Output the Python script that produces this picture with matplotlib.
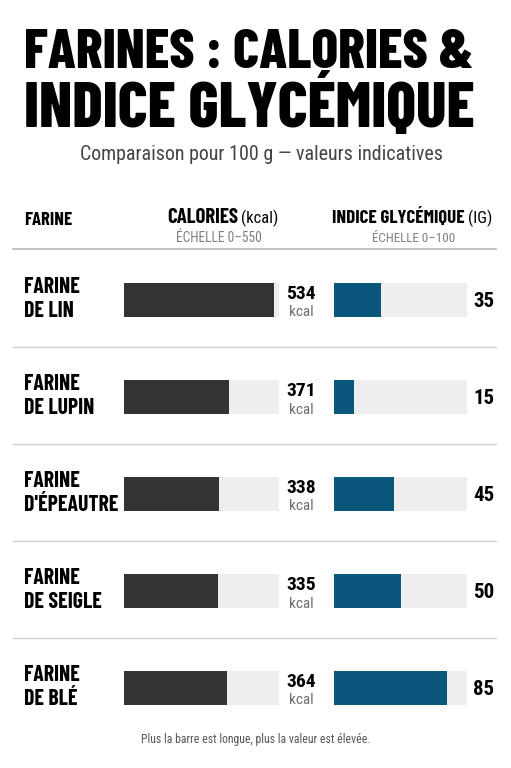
import matplotlib
matplotlib.use("Agg")
import matplotlib.pyplot as plt
from matplotlib import font_manager
from matplotlib.lines import Line2D

farines = ["FARINE\nDE LIN", "FARINE\nDE LUPIN", "FARINE\nD'ÉPEAUTRE", "FARINE\nDE SEIGLE", "FARINE\nDE BLÉ"]
calories = [534, 371, 338, 335, 364]
ig = [35, 15, 45, 50, 85]
cal_max = 550
ig_max = 100

names = {f.name for f in font_manager.fontManager.ttflist}


def pick(cands):
    for c in cands:
        if c in names:
            return c
    return "DejaVu Sans"


BOLD = pick(["Barlow Condensed", "Roboto Condensed", "Liberation Sans Narrow"])
REG = pick(["Roboto Condensed", "Barlow Condensed", "Liberation Sans Narrow"])

W, H = 511, 768
fig = plt.figure(figsize=(W / 100, H / 100), dpi=100)
fig.patch.set_facecolor("white")


def fx(px):
    return px / W


def fy(py):
    return 1 - py / H


def txt(x, y, s, size, weight="normal", color="black", ha="left", va="baseline", family=None, **kw):
    if family is None:
        family = REG if weight == "normal" else BOLD
    return fig.text(fx(x), fy(y), s, fontsize=size, fontweight=weight, color=color,
                    ha=ha, va=va, family=family, **kw)


renderer = fig.canvas.get_renderer()


def fit(t, width):
    w = t.get_window_extent(renderer).width
    t.set_fontsize(t.get_fontsize() * width / w)
    return t.get_fontsize()


# title
fit(txt(24, 68, "FARINES : CALORIES &", 38, 800), 448)
fit(txt(24, 127, "INDICE GLYCÉMIQUE", 38, 800), 450)
fit(txt(262, 160, "Comparaison pour 100 g — valeurs indicatives", 13, color="#444444", ha="center"), 363)

# column headers
fit(txt(24, 225, "FARINE", 13, "bold"), 48)
fit(txt(238, 223, "CALORIES", 13, "bold", ha="right"), 71)
txt(241, 223, "(kcal)", 12, ha="left")
fit(txt(465, 223, "INDICE GLYCÉMIQUE", 13, "bold", ha="right"), 132)
txt(468, 223, "(IG)", 12, ha="left")
fit(txt(219, 242, "ÉCHELLE 0–550", 9, color="#808080", ha="center"), 87)
fit(txt(414, 242, "ÉCHELLE 0–100", 9, color="#808080", ha="center"), 84)

fig.add_artist(Line2D([fx(13), fx(496)], [fy(249), fy(249)], color="#b5b5b5", lw=1.2))
for y in [347, 444, 541, 638]:
    fig.add_artist(Line2D([fx(13), fx(496)], [fy(y), fy(y)], color="#cfcfcf", lw=1))

# bar axes, rows are 97 px apart starting at y=251.5
top, bottom = 251.5, 251.5 + 97 * len(farines)
rows = list(range(len(farines)))
ax_cal = fig.add_axes([fx(124), fy(bottom), fx(279 - 124), (bottom - top) / H])
ax_ig = fig.add_axes([fx(334), fy(bottom), fx(467 - 334), (bottom - top) / H])

ax_cal.barh(rows, [cal_max] * len(rows), height=0.36, color="#eeeeee")
ax_cal.barh(rows, calories, height=0.36, color="#333333")
ax_cal.set_xlim(0, cal_max)
ax_ig.barh(rows, [ig_max] * len(rows), height=0.36, color="#eeeeee")
ax_ig.barh(rows, ig, height=0.36, color="#0b567b")
ax_ig.set_xlim(0, ig_max)
for ax in (ax_cal, ax_ig):
    ax.set_ylim(len(rows) - 0.5, -0.5)
    ax.axis("off")

# label size: halfway between fitting the width and matching the cap height
probe = txt(0, 0, "FARINE", 16, "bold")
lab_size = (fit(probe, 53) + 16.5) / 2
probe.remove()

for i, name in enumerate(farines):
    cy = top + 97 * (i + 0.5)
    l1, l2 = name.split("\n")
    txt(24, cy - 7, l1, lab_size, "bold")
    txt(24, cy + 17, l2, lab_size, "bold")
    txt(301, cy - 1, str(calories[i]), 14, "bold", ha="center", family=REG)
    txt(301, cy + 16.5, "kcal", 11, color="#6e6e6e", ha="center")
    txt(484, cy + 7, str(ig[i]), 15, "bold", ha="center", family=REG)

fit(txt(256, 743, "Plus la barre est longue, plus la valeur est élevée.", 9, color="#555555", ha="center"), 229)

fig.savefig("out.png", dpi=100, facecolor="white")
